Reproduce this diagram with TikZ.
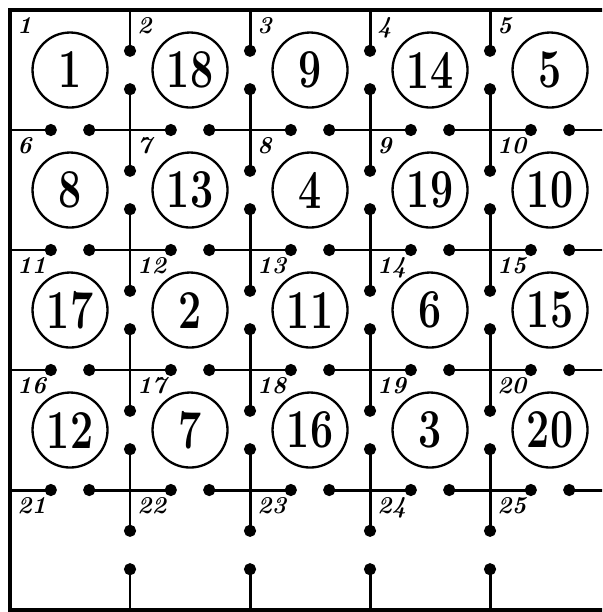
\documentclass[tikz,border=0pt]{standalone}
\usepackage{graphicx}
\usepackage{tikz}
\usetikzlibrary{arrows.meta, calc}

\newcommand{\bignum}[1]{\scalebox{0.75}[1]{\fontsize{26}{26}\selectfont\bfseries #1}}

\begin{document}
\begin{tikzpicture}[
    cell/.style={circle, draw, line width=1.1pt, minimum size=1.25cm, inner sep=0pt},
    tag/.style={below right, font=\fontsize{11.5}{12}\selectfont\bfseries\itshape},
    frame/.style={line width=1.5pt},
    stub/.style={-{Circle[length=2mm]}, line width=1.4pt}
]
    \useasboundingbox (-0.167,0.167) rectangle (9.867,-10.033);
    \clip (-0.167,0.167) rectangle (9.867,-10.033);

    % Grid points
    \foreach \c in {0,...,5} {
        \foreach \r in {0,...,5} {
            \coordinate (g-\c-\r) at (2*\c, -2*\r);
        }
    }

    % Frame
    \draw[frame] (g-5-0) -- (g-0-0) -- (g-0-5) -- (g-5-5);

    % Stubs from the frame
    \foreach \i in {1,...,4} {
        \draw[stub] (g-\i-0) -- ++(0,-0.78);
        \draw[stub] (g-\i-5) -- ++(0,0.78);
        \draw[stub] (g-0-\i) -- ++(0.78,0);
        \draw[stub] (g-5-\i) -- ++(-0.78,0);
    }

    % Crosses
    \foreach \c in {1,...,4} {
        \foreach \r in {1,...,4} {
            \draw[stub] (g-\c-\r) -- ++(0,0.78);
            \draw[stub] (g-\c-\r) -- ++(0,-0.78);
            \draw[stub] (g-\c-\r) -- ++(0.78,0);
            \draw[stub] (g-\c-\r) -- ++(-0.78,0);
        }
    }

    % Row 1
    \foreach \n [count=\c from 0] in {1,18,9,14,5}
        \node[cell] (cell-\n) at (2*\c+1, -1) {\bignum{\n}};
    % Row 2
    \foreach \n [count=\c from 0] in {8,13,4,19,10}
        \node[cell] (cell-\n) at (2*\c+1, -3) {\bignum{\n}};
    % Row 3
    \foreach \n [count=\c from 0] in {17,2,11,6,15}
        \node[cell] (cell-\n) at (2*\c+1, -5) {\bignum{\n}};
    % Row 4
    \foreach \n [count=\c from 0] in {12,7,16,3,20}
        \node[cell] (cell-\n) at (2*\c+1, -7) {\bignum{\n}};

    % Point numbers
    \foreach \r in {0,...,4} {
        \foreach \c in {0,...,4} {
            \pgfmathtruncatemacro{\k}{5*\r+\c+1}
            \node[tag] (tag-\k) at (g-\c-\r) {\k};
        }
    }

\end{tikzpicture}
\end{document}
